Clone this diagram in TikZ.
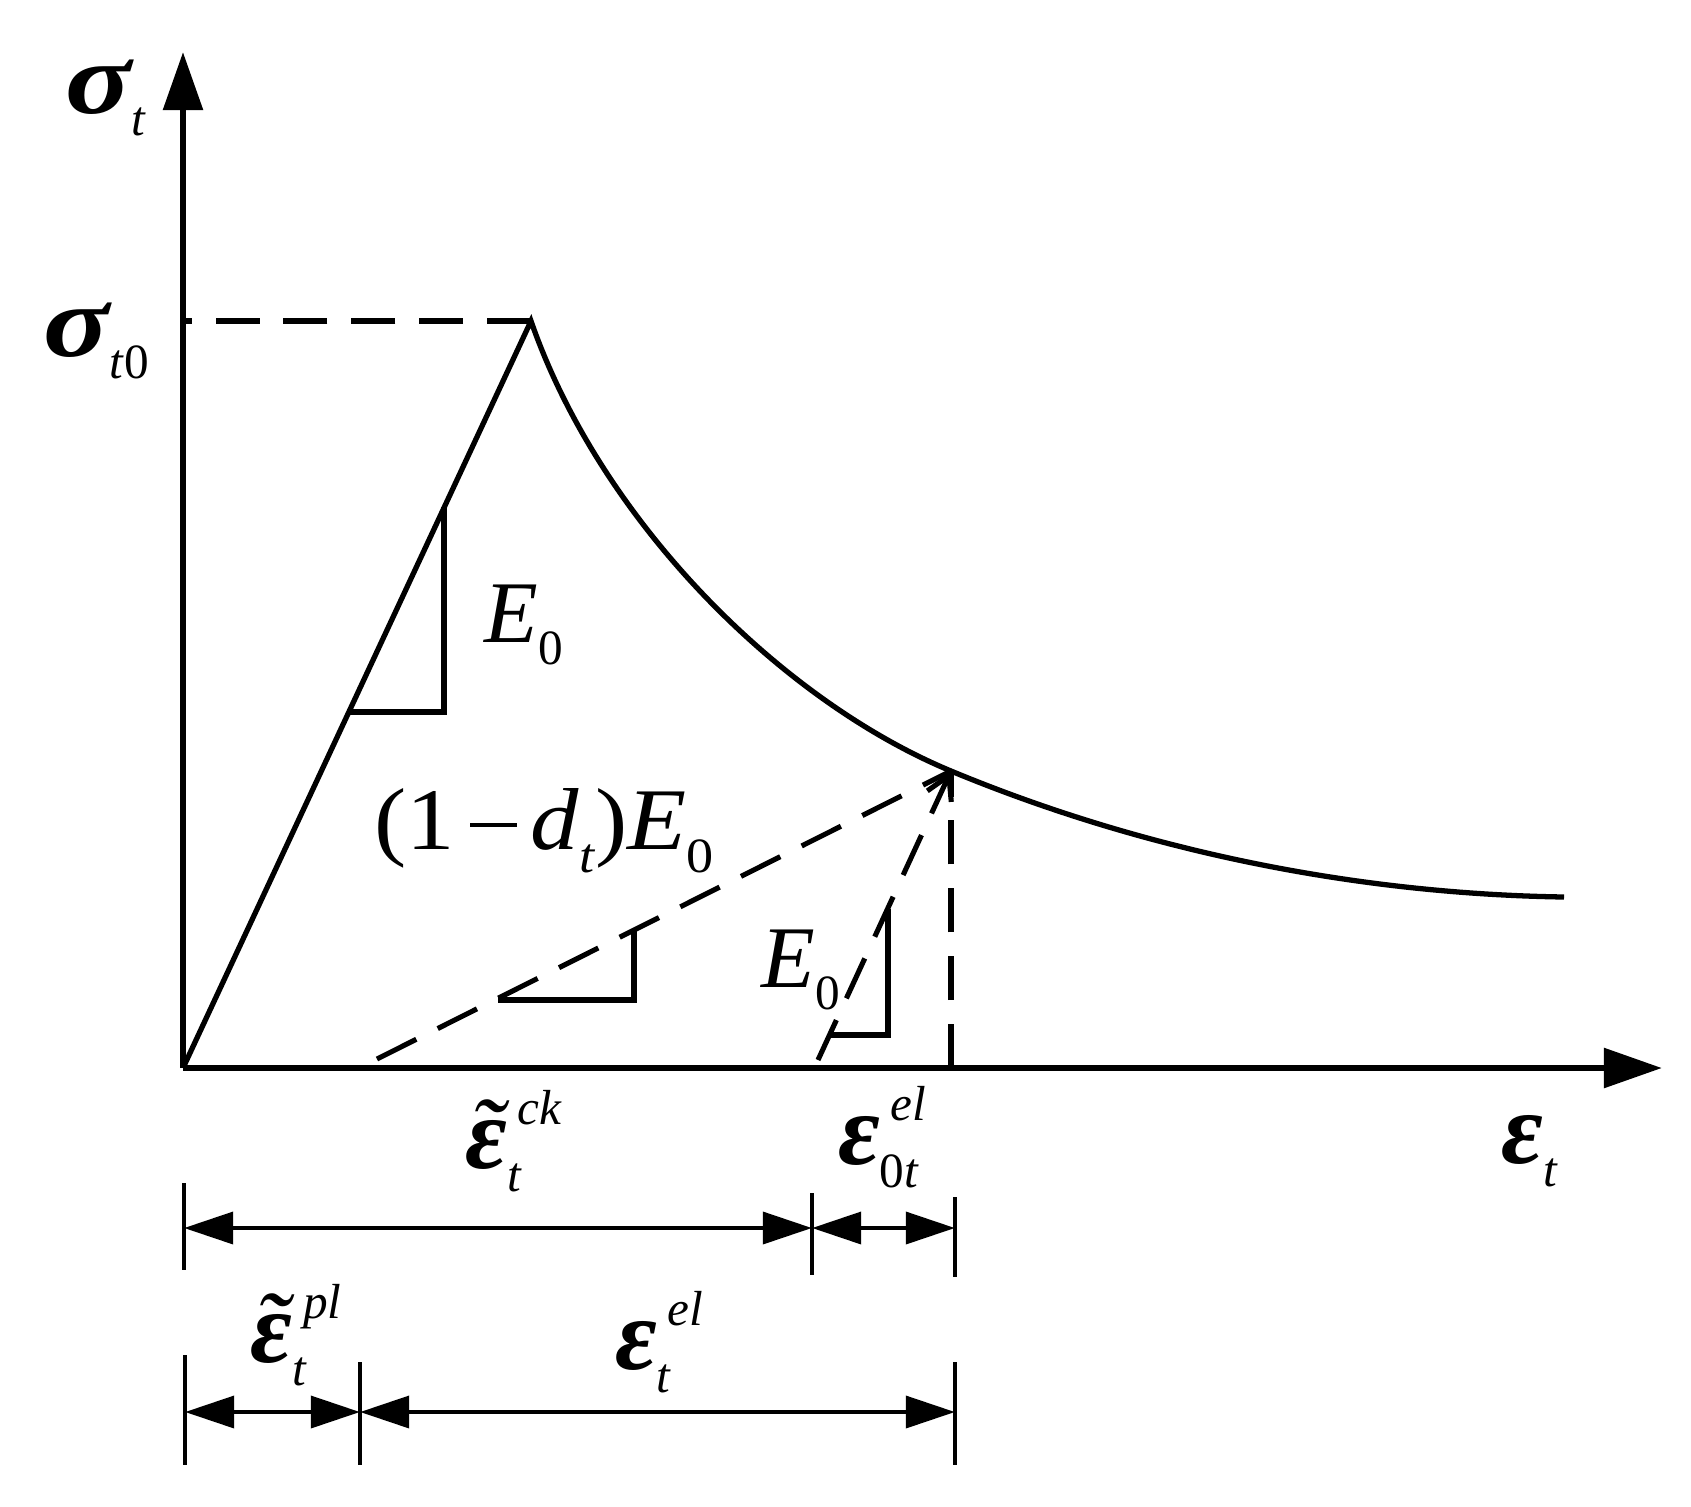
\documentclass[tikz,border=0pt]{standalone}
\usepackage{graphicx}
\usepackage{fontspec}
\setmainfont{Liberation Serif}
\usetikzlibrary{arrows.meta,positioning}
% Greek symbols, scripts
\font\gkbi="Liberation Serif/BI" at 29pt
\newcommand{\gk}[1]{{\fontsize{29}{29}\selectfont\bfseries\itshape #1}}
\newcommand{\sg}{\scalebox{1.2}[1]{σ}}
\newcommand{\tep}{{\fontsize{29}{29}\selectfont\itshape\accent"02DC\gkbi ε}}
\newcommand{\mi}{\kern4pt\rule[6.5pt]{12.2pt}{1.2pt}\kern3.5pt}
\newcommand{\lo}[1]{\raisebox{-6.5pt}{\fontsize{14}{14}\selectfont #1}}
\newcommand{\hi}[1]{\raisebox{12.5pt}{\fontsize{14}{14}\selectfont #1}}
\newcommand{\hilo}[2]{\setbox0\hbox{\kern3pt\hi{#1}}\setbox2\hbox{\lo{#2}}%
  \ifdim\wd0>\wd2 \rlap{\box2}\box0\else\rlap{\box0}\box2\fi}

\begin{document}
\begin{tikzpicture}[
        x=0.01cm, y=-0.01cm,
        >={Triangle[length=14pt,width=9pt]},
        every node/.style={font=\fontsize{25}{30}\selectfont, inner sep=0pt},
        axis/.style={line width=1.9pt, -{Triangle[length=16.5pt,width=11pt]}},
        curve/.style={line width=1.5pt, line join=miter},
        guide/.style={line width=1.45pt, dash pattern=on 12.5pt off 6.8pt},
        slope/.style={line width=1.45pt},
        tick/.style={line width=1.2pt},
        dim/.style={line width=1.4pt, <->}
        ]
        \useasboundingbox (0,0) rectangle (1691,1506);

        % Key points
        \coordinate (O)     at (183,1068);
        \coordinate (ytip)  at (183,52);
        \coordinate (xtip)  at (1662,1068);
        \coordinate (peak)  at (531,321);
        \coordinate (ypeak) at (183,321);
        \coordinate (Q)     at (951,771);
        \coordinate (Qfoot) at (951,1068);
        \coordinate (cend)  at (1564,897);
        \coordinate (dstart) at (377,1059);
        \coordinate (estart) at (818,1060);

        % Axes
        \draw[axis] (O) -- (ytip);
        \draw[axis] (O) -- (xtip);

        % Stress-strain curve
        \draw[curve] (O) -- (peak) .. controls (600,520) and (780,700) .. (Q)
            .. controls (1151,854) and (1364,894) .. (cend);

        % Dashed guides
        \draw[guide] (peak) -- (ypeak);
        \draw[guide] (dstart) -- (Q);
        \draw[guide, -{Straight Barb[length=6.5pt,width=7.5pt]}] (estart) -- (Q);
        \draw[guide] (Qfoot) -- (Q);

        % Slope triangles
        \draw[slope] (350,712) -- (444,712) -- (444,507);
        \draw[slope] (498,1000) -- (634,1000) -- (634,930);
        \draw[slope] (831,1035) -- (888,1035) -- (888,909);

        % Labels
        \node (sigt)  at (106,98)   {\gk{\sg}\lo{\textit{t}}};
        \node (sigt0) at (96,341)   {\gk{\sg}\lo{\textit{t}0}};
        \node (epst)  at (1530,1151) {\gk{ε}\lo{\textit{t}}};
        \node (E1)    at (524,625)  {\textit{E}\lo{0}};
        \node (E2)    at (801,970)  {\textit{E}\lo{0}};
        \node (Ed)    at (544,831)  {\scalebox{1.1}[1]{(1\mi\textit{d}\lo{\textit{t}})\textit{E}\lo{0}}};

        % Dimension lines
        \coordinate (d1a) at (184,1228);
        \coordinate (d1b) at (812,1228);
        \coordinate (d1c) at (955,1228);
        \coordinate (d2a) at (185,1412);
        \coordinate (d2b) at (360,1412);
        \coordinate (d2c) at (955,1412);
        \draw[tick] (184,1183) -- (184,1270);
        \draw[tick] (812,1193) -- (812,1275);
        \draw[tick] (955,1197) -- (955,1277);
        \draw[tick] (185,1355) -- (185,1465);
        \draw[tick] (360,1362) -- (360,1465);
        \draw[tick] (955,1362) -- (955,1465);
        \draw[dim] (d1a) -- (d1b);
        \draw[dim] (d1b) -- (d1c);
        \draw[dim] (d2a) -- (d2b);
        \draw[dim] (d2b) -- (d2c);

        \node (eck) at (514,1141) {\tep\hilo{\textit{ck}}{\textit{t}}};
        \node (e0t) at (882,1137) {\gk{ε}\hilo{\textit{el}}{0\textit{t}}};
        \node (epl) at (296,1335) {\tep\hilo{\textit{pl}}{\textit{t}}};
        \node (eel) at (659,1342) {\gk{ε}\hilo{\textit{el}}{\textit{t}}};
      \end{tikzpicture}
\end{document}
